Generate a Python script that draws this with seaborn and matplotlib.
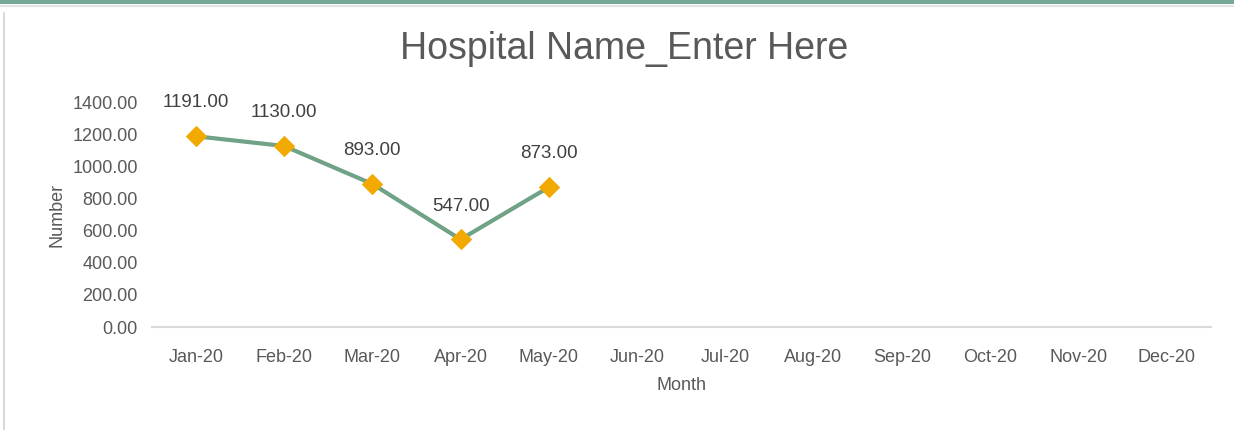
import matplotlib
matplotlib.use("Agg")
import matplotlib.pyplot as plt
import seaborn as sns
import pandas as pd
from matplotlib.patches import Rectangle
from matplotlib.lines import Line2D

# Data
months = ["Jan-20", "Feb-20", "Mar-20", "Apr-20", "May-20", "Jun-20",
          "Jul-20", "Aug-20", "Sep-20", "Oct-20", "Nov-20", "Dec-20"]
values = [1191, 1130, 893, 547, 873]
y_ticks = [0, 200, 400, 600, 800, 1000, 1200, 1400]

df = pd.DataFrame({"month": months[:len(values)], "number": values})
df["pos"] = range(len(values))

sns.set_theme(style="white")
plt.rcParams["font.family"] = ["Liberation Sans", "DejaVu Sans"]
text_color = "#595959"

fig = plt.figure(figsize=(12.34, 4.3), dpi=100)
ax = fig.add_axes([0.123, 0.2395, 0.858, 0.5215])

sns.lineplot(data=df, x="pos", y="number", ax=ax, color="#6FA287",
             linewidth=3, marker="D", markersize=10,
             markerfacecolor="#F2A900", markeredgecolor="#F2A900", zorder=3)

for x, v in zip(df["pos"], values):
    ax.annotate(f"{v:.2f}", (x, v), xytext=(0, 24), textcoords="offset points",
                ha="center", va="center", fontsize=13.5, color="#404040",
                bbox=dict(boxstyle="square,pad=0.15", fc="white", ec="none"),
                zorder=4)

ax.set_xlim(-0.5, len(months) - 0.5)
ax.set_ylim(0, 1400)
ax.set_xticks(range(len(months)))
ax.set_xticklabels(months)
ax.set_yticks(y_ticks)
ax.set_yticklabels([f"{t:.2f}" for t in y_ticks])
ax.tick_params(axis="both", length=0, labelsize=13, colors=text_color, pad=10)
ax.tick_params(axis="x", pad=16)

for s in ["top", "right", "left"]:
    ax.spines[s].set_visible(False)
ax.spines["bottom"].set_color("#D9D9D9")
ax.spines["bottom"].set_linewidth(1.5)

ax.set_xlabel("Month", fontsize=13, color=text_color, labelpad=8)
ax.set_ylabel("Number", fontsize=13, color=text_color, labelpad=5)
fig.text(0.506, 0.887, "Hospital Name_Enter Here", ha="center", va="center",
         fontsize=27, color=text_color)

# frame decorations
fig.add_artist(Rectangle((0, 0.991), 1, 0.009, transform=fig.transFigure,
                         color="#76A898", lw=0))
fig.add_artist(Line2D([0, 1], [0.986, 0.986], transform=fig.transFigure,
                      color="#E3E3E3", lw=1.5))
fig.add_artist(Line2D([0.003, 0.003], [0, 0.97], transform=fig.transFigure,
                      color="#D9D9D9", lw=1.5))

fig.savefig("out.png", dpi=100)
